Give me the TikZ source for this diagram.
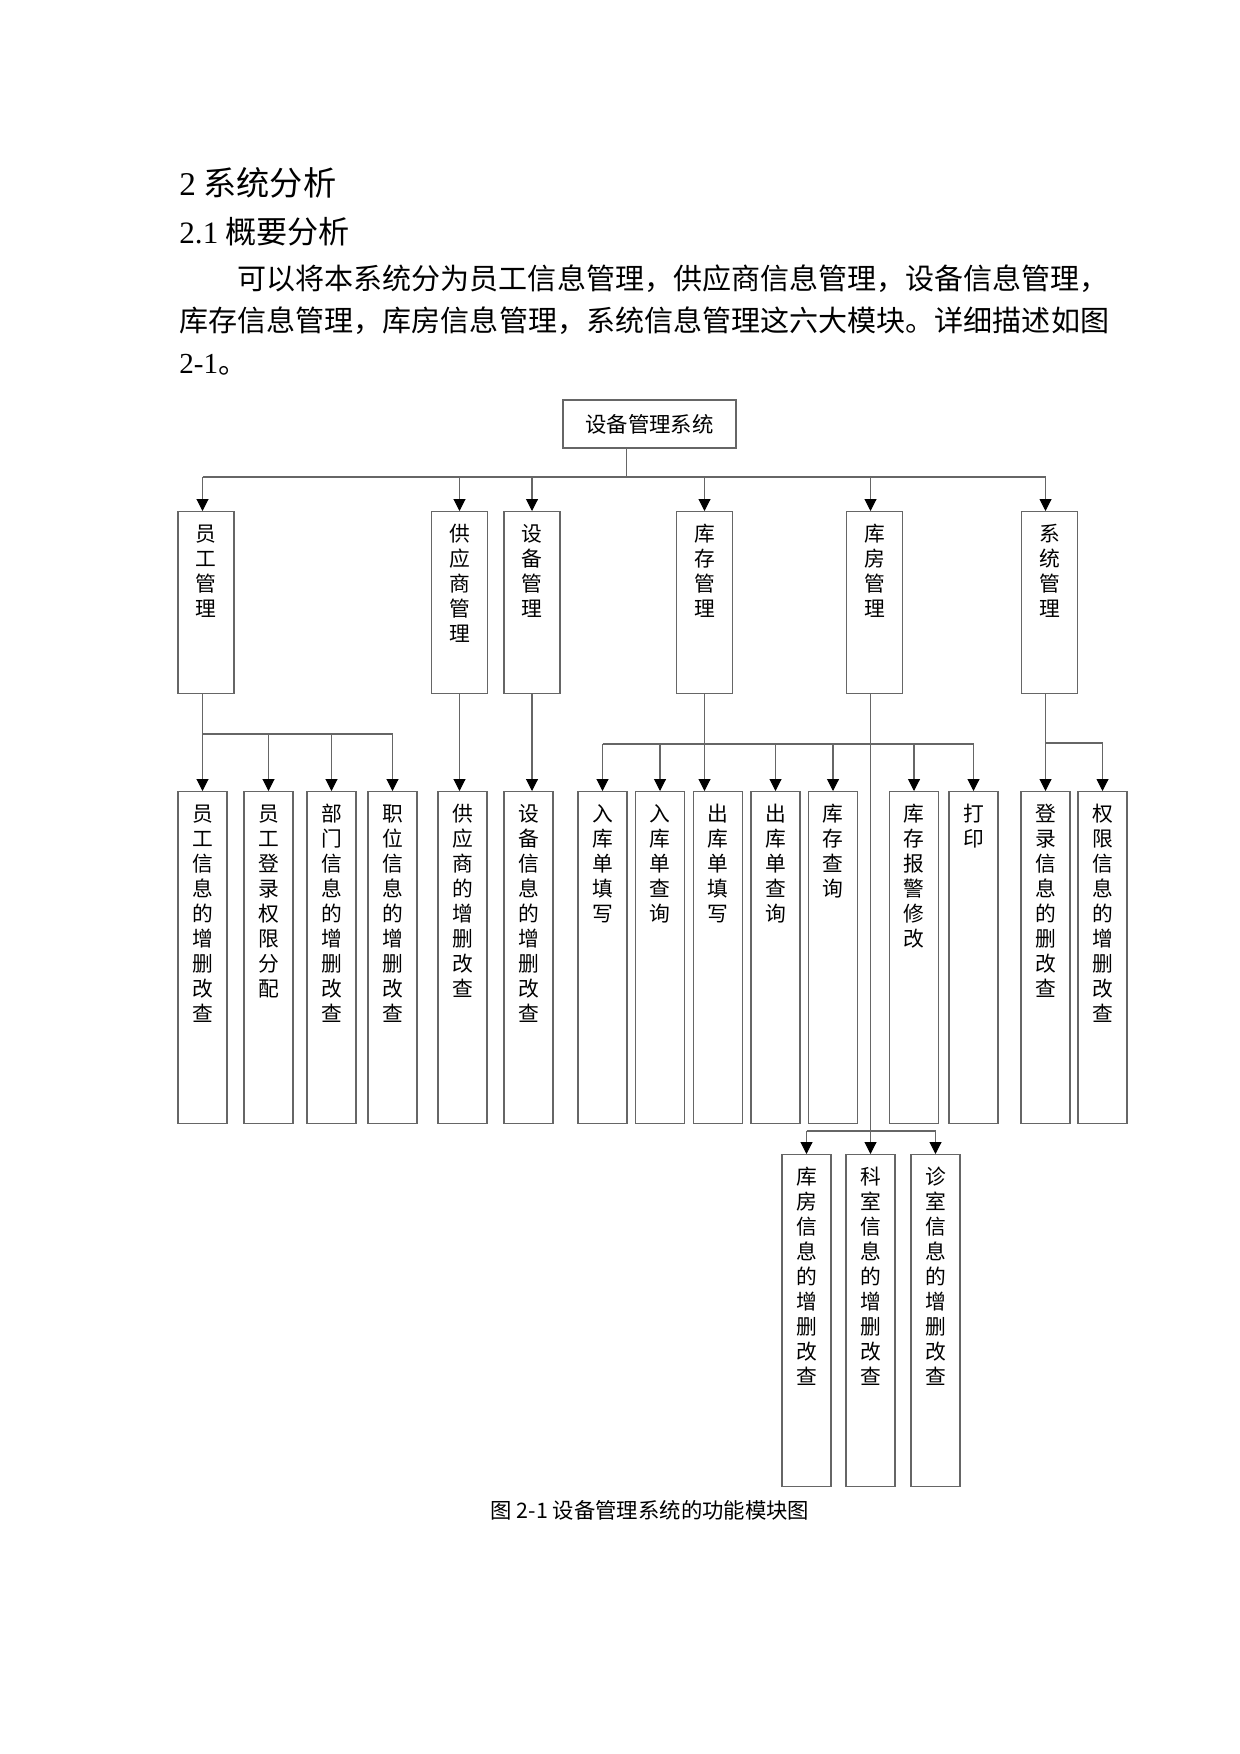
\documentclass[tikz,border=0pt]{standalone}
\usepackage{fontspec}
\setmainfont{Noto Sans CJK SC}
\newfontfamily\tnr{Liberation Serif}
\XeTeXlinebreaklocale "zh"
\XeTeXlinebreakskip=0pt plus 3pt
\usepackage{tikz}
\usetikzlibrary{arrows.meta}
\newdimen\pxu
\pxu=0.16935mm
\tikzset{mybox/.style={draw=black!60, line width=0.5pt, minimum width=173\pxu, minimum height=48\pxu, inner sep=0pt, font=\fontsize{10.3}{12}\selectfont}}
\tikzset{myboxTop/.style={draw=black!60, line width=0.5pt, anchor=north, text width=56\pxu, align=center, inner sep=0pt, text height=30\pxu, text depth=152\pxu, font=\fontsize{10}{12.04}\selectfont}}
\tikzset{myboxSub/.style={myboxTop, text width=49\pxu, text depth=302\pxu}}
\tikzset{mytext/.style={anchor=base west, inner sep=0pt, font=\fontsize{14}{17}\selectfont}}
\tikzset{mylink/.style={draw=black!60, line width=0.5pt}}
\tikzset{myarrow/.style={mylink, -{Triangle[length=2mm, width=2mm, color=black]}}}

\begin{document}
\begin{tikzpicture}[x=0.16935mm, y=-0.16935mm]

\useasboundingbox (0,0) rectangle (1240,1754);

\node[mytext, font=\fontsize{16}{19}\selectfont] (h1) at (179,195) {{\tnr 2} 系统分析};
\node[mytext, font=\fontsize{15}{18}\selectfont] (h2) at (179,243) {{\tnr 2.1} 概要分析};
\node[mytext] (p1) at (237,289) {\hbox to 880\pxu{可以将本系统分为员工信息管理，供应商信息管理，设备信息管理，}};
\node[mytext] (p2) at (179,331) {\hbox to 938\pxu{库存信息管理，库房信息管理，系统信息管理这六大模块。详细描述如图}};
\node[mytext] (p3) at (179,373) {{\tnr 2-1}。};

\node[mybox] (root) at (649.5,424) {设备管理系统};

\node[myboxTop] (emp) at (206,511) {员\\工\\管\\理};
\node[myboxTop] (sup) at (459.5,511) {供\\应\\商\\管\\理};
\node[myboxTop] (dev) at (532,511) {设\\备\\管\\理};
\node[myboxTop] (stk) at (704.5,511) {库\\存\\管\\理};
\node[myboxTop] (wh) at (874.5,511) {库\\房\\管\\理};
\node[myboxTop] (sys) at (1049.5,511) {系\\统\\管\\理};

\node[myboxSub] (e1) at (202.5,791) {员\\工\\信\\息\\的\\增\\删\\改\\查};
\node[myboxSub] (e2) at (268.5,791) {员\\工\\登\\录\\权\\限\\分\\配};
\node[myboxSub] (e3) at (331.5,791) {部\\门\\信\\息\\的\\增\\删\\改\\查};
\node[myboxSub] (e4) at (392.5,791) {职\\位\\信\\息\\的\\增\\删\\改\\查};
\node[myboxSub] (s1) at (462.5,791) {供\\应\\商\\的\\增\\删\\改\\查};
\node[myboxSub] (d1) at (528.5,791) {设\\备\\信\\息\\的\\增\\删\\改\\查};
\node[myboxSub] (k1) at (602.5,791) {入\\库\\单\\填\\写};
\node[myboxSub] (k2) at (660,791) {入\\库\\单\\查\\询};
\node[myboxSub] (k3) at (718,791) {出\\库\\单\\填\\写};
\node[myboxSub] (k4) at (775.5,791) {出\\库\\单\\查\\询};
\node[myboxSub] (k5) at (833,791) {库\\存\\查\\询};
\node[myboxSub] (k6) at (914,791) {库\\存\\报\\警\\修\\改};
\node[myboxSub] (k7) at (973.5,791) {打\\印};
\node[myboxSub] (y1) at (1045.5,791) {登\\录\\信\\息\\的\\删\\改\\查};
\node[myboxSub] (y2) at (1102.5,791) {权\\限\\信\\息\\的\\增\\删\\改\\查};

\node[myboxSub] (w1) at (806.5,1154) {库\\房\\信\\息\\的\\增\\删\\改\\查};
\node[myboxSub] (w2) at (870.5,1154) {科\\室\\信\\息\\的\\增\\删\\改\\查};
\node[myboxSub] (w3) at (935.5,1154) {诊\\室\\信\\息\\的\\增\\删\\改\\查};

\node[font=\fontsize{10.3}{12}\selectfont, inner sep=0pt] (cap) at (650,1510) {图 2-1 设备管理系统的功能模块图};

\coordinate (bus) at (626.5,477);
\draw[mylink] (root.south -| bus) -- (bus);
\draw[mylink] (bus -| e1) -- (bus -| y1);
\draw[myarrow] (bus -| e1) -- (e1 |- emp.north);
\draw[myarrow] (bus -| sup) -- (sup.north);
\draw[myarrow] (bus -| dev) -- (dev.north);
\draw[myarrow] (bus -| stk) -- (stk.north);
\draw[myarrow] (bus -| w2) -- (w2 |- wh.north);
\draw[myarrow] (bus -| y1) -- (y1 |- sys.north);

\coordinate (ebus) at (202.5,734);
\draw[myarrow] (e1 |- emp.south) -- (e1.north);
\draw[mylink] (ebus -| e1) -- (ebus -| e4);
\draw[myarrow] (ebus -| e2) -- (e2.north);
\draw[myarrow] (ebus -| e3) -- (e3.north);
\draw[myarrow] (ebus -| e4) -- (e4.north);

\draw[myarrow] (sup.south) -- (sup.south |- s1.north);
\draw[myarrow] (dev.south) -- (dev.south |- d1.north);

\coordinate (kbus) at (704.5,744);
\draw[myarrow] (stk.south) -- (stk.south |- k3.north);
\draw[mylink] (kbus -| k1) -- (kbus -| k7);
\draw[myarrow] (kbus -| k1) -- (k1.north);
\draw[myarrow] (kbus -| k2) -- (k2.north);
\draw[myarrow] (kbus -| k4) -- (k4.north);
\draw[myarrow] (kbus -| k5) -- (k5.north);
\draw[myarrow] (kbus -| k6) -- (k6.north);
\draw[myarrow] (kbus -| k7) -- (k7.north);

\coordinate (ybus) at (1045.5,743);
\draw[myarrow] (y1 |- sys.south) -- (y1.north);
\draw[mylink] (ybus -| y1) -- (ybus -| y2);
\draw[myarrow] (ybus -| y2) -- (y2.north);

\coordinate (wbus) at (870.5,1131);
\draw[myarrow] (w2 |- wh.south) -- (w2.north);
\draw[mylink] (wbus -| w1) -- (wbus -| w3);
\draw[myarrow] (wbus -| w1) -- (w1.north);
\draw[myarrow] (wbus -| w3) -- (w3.north);

\end{tikzpicture}
\end{document}
